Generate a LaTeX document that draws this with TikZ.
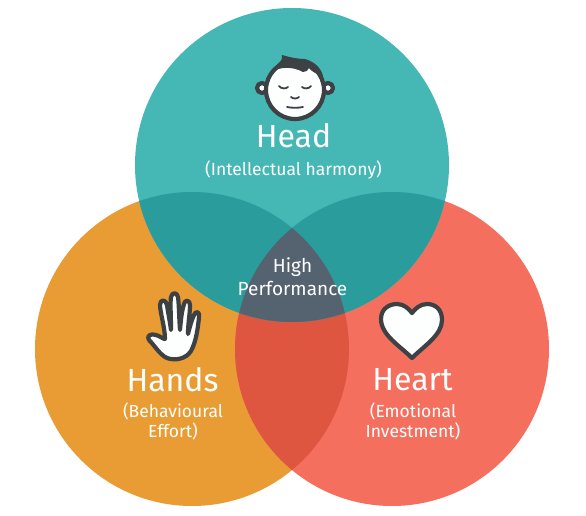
\documentclass[tikz,border=0pt]{standalone}
\usepackage{fontspec}
\setmainfont{Fira Sans}[Scale=1]
\definecolor{teal1}{HTML}{45B8B6}
\definecolor{orange1}{HTML}{E99C33}
\definecolor{coral1}{HTML}{F56F5E}
\definecolor{teal2}{HTML}{2A9C9B}
\definecolor{red2}{HTML}{DF5640}
\definecolor{slate}{HTML}{54636F}
\definecolor{ink}{HTML}{3D4144}
\definecolor{paper}{HTML}{FDFEFE}
\tikzset{
  icon/.style={draw=ink,line width=4.2pt,fill=paper,line join=round},
  stroke/.style={draw=ink,line width=1.8pt,line cap=round},
  title/.style={text=white,font=\fontsize{32}{34}\selectfont,inner sep=0pt},
  sub/.style={text=white,font=\fontsize{17.5}{20}\selectfont,align=center,inner sep=0pt},
  mid/.style={text=white,font=\fontsize{19}{23}\selectfont,align=center,inner sep=0pt},
}
\begin{document}
\begin{tikzpicture}[x=1pt,y=-1pt]
\useasboundingbox (0,0) rectangle (586,516);
\fill[white] (0,0) rectangle (586,516);
\def\cHead{(292,165) circle[radius=157]}
\def\cHands{(192,349) circle[radius=157]}
\def\cHeart{(392,349) circle[radius=157]}
\fill[orange1] \cHands;
\fill[coral1] \cHeart;
\fill[teal1] \cHead;
\begin{scope}\clip \cHands; \fill[red2] \cHeart; \end{scope}
\begin{scope}\clip \cHead; \fill[teal2] \cHands; \fill[teal2] \cHeart; \end{scope}
\begin{scope}\clip \cHead; \clip \cHands; \fill[slate] \cHeart; \end{scope}
% head icon
\filldraw[icon] (262,88) circle[radius=5];
\filldraw[icon] (328,88) circle[radius=5];
\filldraw[icon] (295,90) circle[radius=29];
\fill[ink] (270,72) .. controls (276,64) and (284,61) .. (282,55) .. controls (292,58) and (300,59) .. (305,59)
  .. controls (315,62) and (321,68) .. (323,76) .. controls (316,74) and (311,71) .. (309,68)
  .. controls (307,71) and (306,72) .. (303,72) .. controls (292,66) and (280,67) .. (270,72) -- cycle;
\draw[stroke] (279,86) .. controls (281,89) and (286,89) .. (288,87);
\draw[stroke] (302,87) .. controls (304,89) and (309,89) .. (311,86);
\draw[stroke] (291,97) .. controls (293,99) and (297,99) .. (299,97);
\draw[stroke] (287,107) .. controls (291,108) and (299,108) .. (303,107);
% hand icon
\filldraw[icon] (149,340)
  .. controls (146,336) and (151,333) .. (156,335)
  .. controls (160,336) and (163,339) .. (165,339)
  .. controls (165,328) and (160,312) .. (160,305)
  .. controls (160,299) and (166,299) .. (167,305)
  .. controls (168,312) and (170,322) .. (171,330)
  .. controls (171,315) and (170,303) .. (171,297)
  .. controls (172,292) and (177,292) .. (178,297)
  .. controls (179,305) and (179,316) .. (180,330)
  .. controls (181,318) and (182,310) .. (184,304)
  .. controls (185,299) and (190,300) .. (190,305)
  .. controls (190,314) and (188,323) .. (188,334)
  .. controls (190,326) and (192,319) .. (194,315)
  .. controls (196,310) and (200,312) .. (199,317)
  .. controls (198,328) and (196,342) .. (191,351)
  .. controls (186,359) and (175,361) .. (167,358)
  .. controls (160,355) and (155,346) .. (149,340) -- cycle;
% heart icon
\filldraw[icon] (412,358)
  .. controls (400,346) and (381,335) .. (381,319)
  .. controls (381,308) and (390,304) .. (397,304)
  .. controls (404,304) and (409,309) .. (412,313)
  .. controls (415,309) and (420,304) .. (427,304)
  .. controls (435,304) and (442,309) .. (442,320)
  .. controls (442,335) and (424,346) .. (412,358) -- cycle;
% text
\node[title] (head) at (293.5,136) {Head};
\node[sub] (headsub) at (293.5,169.5) {(Intellectual harmony)};
\node[title] (hands) at (172.5,380) {Hands};
\node[sub] (handssub) at (173,421.5) {(Behavioural\\Effort)};
\node[title] (heart) at (412.5,380) {Heart};
\node[sub] (heartsub) at (413,421.5) {(Emotional\\Investment)};
\node[mid] (perf) at (292.5,276.5) {High\\Performance};
\end{tikzpicture}
\end{document}
